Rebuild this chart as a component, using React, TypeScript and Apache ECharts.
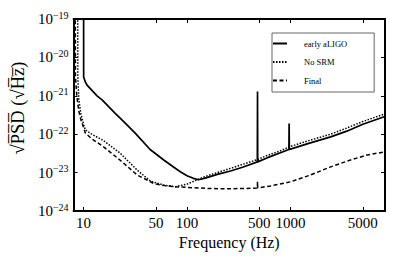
import React, { useEffect, useRef } from "react";
import * as echarts from "echarts";

// ---- data (frequency in Hz, amplitude spectral density in 1/sqrt(Hz)) ----
const earlyFreq = [10, 10.02, 10.4, 10.8, 12, 13.5, 15.1, 20, 25, 31.7, 44, 60, 74, 86, 100, 115, 129, 150, 200, 263, 350, 478, 480, 482, 600, 800, 965, 970, 975, 1000, 1500, 2445, 3500, 5000, 8192];
const earlyAsd = [1e-17, 3.1e-21, 2.3e-21, 1.9e-21, 1.4e-21, 1.0e-21, 7.8e-22, 3.6e-22, 2.0e-22, 1.05e-22, 4.0e-23, 2.1e-23, 1.4e-23, 1.05e-23, 8.3e-24, 7.1e-24, 6.5e-24, 7.2e-24, 9.1e-24, 1.1e-23, 1.4e-23, 1.9e-23, 1.3e-21, 1.9e-23, 2.45e-23, 3.3e-23, 4.0e-23, 1.9e-22, 4.0e-23, 4.1e-23, 5.75e-23, 8.5e-23, 1.2e-22, 1.82e-22, 2.9e-22];

const noSrmFreq = [8.75, 8.8, 9.0, 9.4, 10, 10.4, 12, 15.6, 22.6, 32.9, 44.3, 60, 77, 100, 125, 150, 200, 263, 350, 480, 600, 800, 1000, 1500, 2445, 3500, 5000, 8192];
const noSrmAsd = [1e-17, 3.2e-21, 7.9e-22, 3.5e-22, 1.8e-22, 1.3e-22, 1.0e-22, 6.8e-23, 3.2e-23, 1.17e-23, 6.0e-24, 4.7e-24, 4.3e-24, 5.0e-24, 6.5e-24, 7.9e-24, 1.02e-23, 1.29e-23, 1.66e-23, 2.19e-23, 2.82e-23, 3.7e-23, 4.8e-23, 6.8e-23, 1.0e-22, 1.45e-22, 2.14e-22, 3.4e-22];

const finalFreq = [8.3, 8.35, 8.6, 9.0, 9.5, 10, 10.4, 12, 15.6, 22.6, 32.9, 47.6, 60, 77, 100, 150, 200, 263, 411, 478, 480, 482, 641, 1000, 1567, 2445, 3819, 5534, 8192];
const finalAsd = [1e-17, 3.2e-21, 1.0e-21, 4.0e-22, 2.2e-22, 1.5e-22, 1.07e-22, 7.6e-23, 4.7e-23, 2.1e-23, 8.7e-24, 5.2e-24, 4.6e-24, 4.3e-24, 4.1e-24, 3.9e-24, 3.8e-24, 3.8e-24, 3.9e-24, 4.0e-24, 5.75e-24, 4.0e-24, 4.5e-24, 5.75e-24, 8.7e-24, 1.41e-23, 2.14e-23, 2.88e-23, 3.47e-23];

const xTickLabels = [10, 50, 100, 500, 1000, 5000];
const xMin = 8;
const xMax = 8192;
// y axis decades (exponents of 10)
const yExpMin = -24;
const yExpMax = -19;

const seriesNames = ["early aLIGO", "No SRM", "Final"];

const SERIF = "'Liberation Serif', 'Times New Roman', Times, serif";

function pairs(f: number[], a: number[]) {
  return f.map((v, i) => [Math.log10(v), Math.log10(a[i])]);
}

export default function App() {
  const ref = useRef<HTMLDivElement>(null);
  useEffect(() => {
    if (!ref.current) return;
    const chart = echarts.init(ref.current, null, { renderer: "svg" });
    const xTickVals = xTickLabels.map((v) => Math.log10(v));
    const axisLine = { show: true, onZero: false, lineStyle: { color: "#000", width: 2 } };
    const tick = { show: true, inside: true, length: 4, lineStyle: { color: "#000", width: 1 } };
    chart.setOption({
      animation: false,
      backgroundColor: "#fff",
      textStyle: { fontFamily: SERIF },
      grid: { left: 73, right: 30, top: 19, bottom: 48, containLabel: false },
      legend: {
        orient: "vertical",
        left: 272,
        top: 33,
        data: seriesNames,
        borderColor: "#666",
        borderWidth: 1,
        padding: [6, 27, 7, 0],
        itemWidth: 14,
        itemHeight: 10,
        itemGap: 9.5,
        itemStyle: { opacity: 0 },
        textStyle: { fontFamily: SERIF, fontSize: 8.5, color: "#000", padding: [0, 0, 0, 12] },
      },
      xAxis: [
        {
          type: "value",
          position: "bottom",
          min: Math.log10(xMin),
          max: Math.log10(xMax),
          axisLine,
          splitLine: { show: false },
          axisTick: { ...tick, customValues: xTickVals },
          axisLabel: {
            customValues: xTickVals,
            formatter: (v: number) => String(Math.round(Math.pow(10, v))),
            fontFamily: SERIF,
            fontSize: 15,
            color: "#000",
            margin: 4,
          },
          name: "Frequency (Hz)",
          nameLocation: "middle",
          nameGap: 22,
          nameTextStyle: { fontFamily: SERIF, fontSize: 16, color: "#000" },
        },
        {
          type: "value",
          position: "top",
          min: Math.log10(xMin),
          max: Math.log10(xMax),
          axisLine,
          splitLine: { show: false },
          axisTick: { ...tick, customValues: xTickVals },
          axisLabel: { show: false },
        },
      ],
      yAxis: [
        {
          type: "value",
          position: "left",
          min: yExpMin,
          max: yExpMax,
          interval: 1,
          axisLine,
          splitLine: { show: false },
          axisTick: tick,
          axisLabel: {
            margin: 5,
            formatter: (v: number) => `{b|10}{s|−${Math.round(-v)}}`,
            rich: {
              b: { fontFamily: SERIF, fontSize: 15, color: "#000" },
              s: { fontFamily: SERIF, fontSize: 10, color: "#000", padding: [0, 0, 8, 0] },
            },
          },
          name: "√P̅S̅D̅ (√H̅z̅)",
          nameLocation: "middle",
          nameGap: 44,
          nameTextStyle: { fontFamily: SERIF, fontSize: 18.5, color: "#000", padding: [0, 0, 0, 14] },
        },
        {
          type: "value",
          position: "right",
          min: yExpMin,
          max: yExpMax,
          interval: 1,
          axisLine,
          splitLine: { show: false },
          axisTick: tick,
          axisLabel: { show: false },
        },
      ],
      series: [
        {
          name: seriesNames[0],
          type: "line",
          data: pairs(earlyFreq, earlyAsd),
          symbol: "none",
          showSymbol: false,
          clip: true,
          lineStyle: { color: "#000", width: 1.7, type: "solid" },
          itemStyle: { color: "#000" },
        },
        {
          name: seriesNames[1],
          type: "line",
          data: pairs(noSrmFreq, noSrmAsd),
          symbol: "none",
          showSymbol: false,
          clip: true,
          lineStyle: { color: "#000", width: 1.5, type: [1.5, 1.5] },
          itemStyle: { color: "#000" },
        },
        {
          name: seriesNames[2],
          type: "line",
          data: pairs(finalFreq, finalAsd),
          symbol: "none",
          showSymbol: false,
          clip: true,
          lineStyle: { color: "#000", width: 1.5, type: [4, 2.5] },
          itemStyle: { color: "#000" },
        },
      ],
    });
    return () => chart.dispose();
  }, []);
  return <div ref={ref} style={{ position: "fixed", left: 0, top: 0, width: 415, height: 259 }} />;
}
